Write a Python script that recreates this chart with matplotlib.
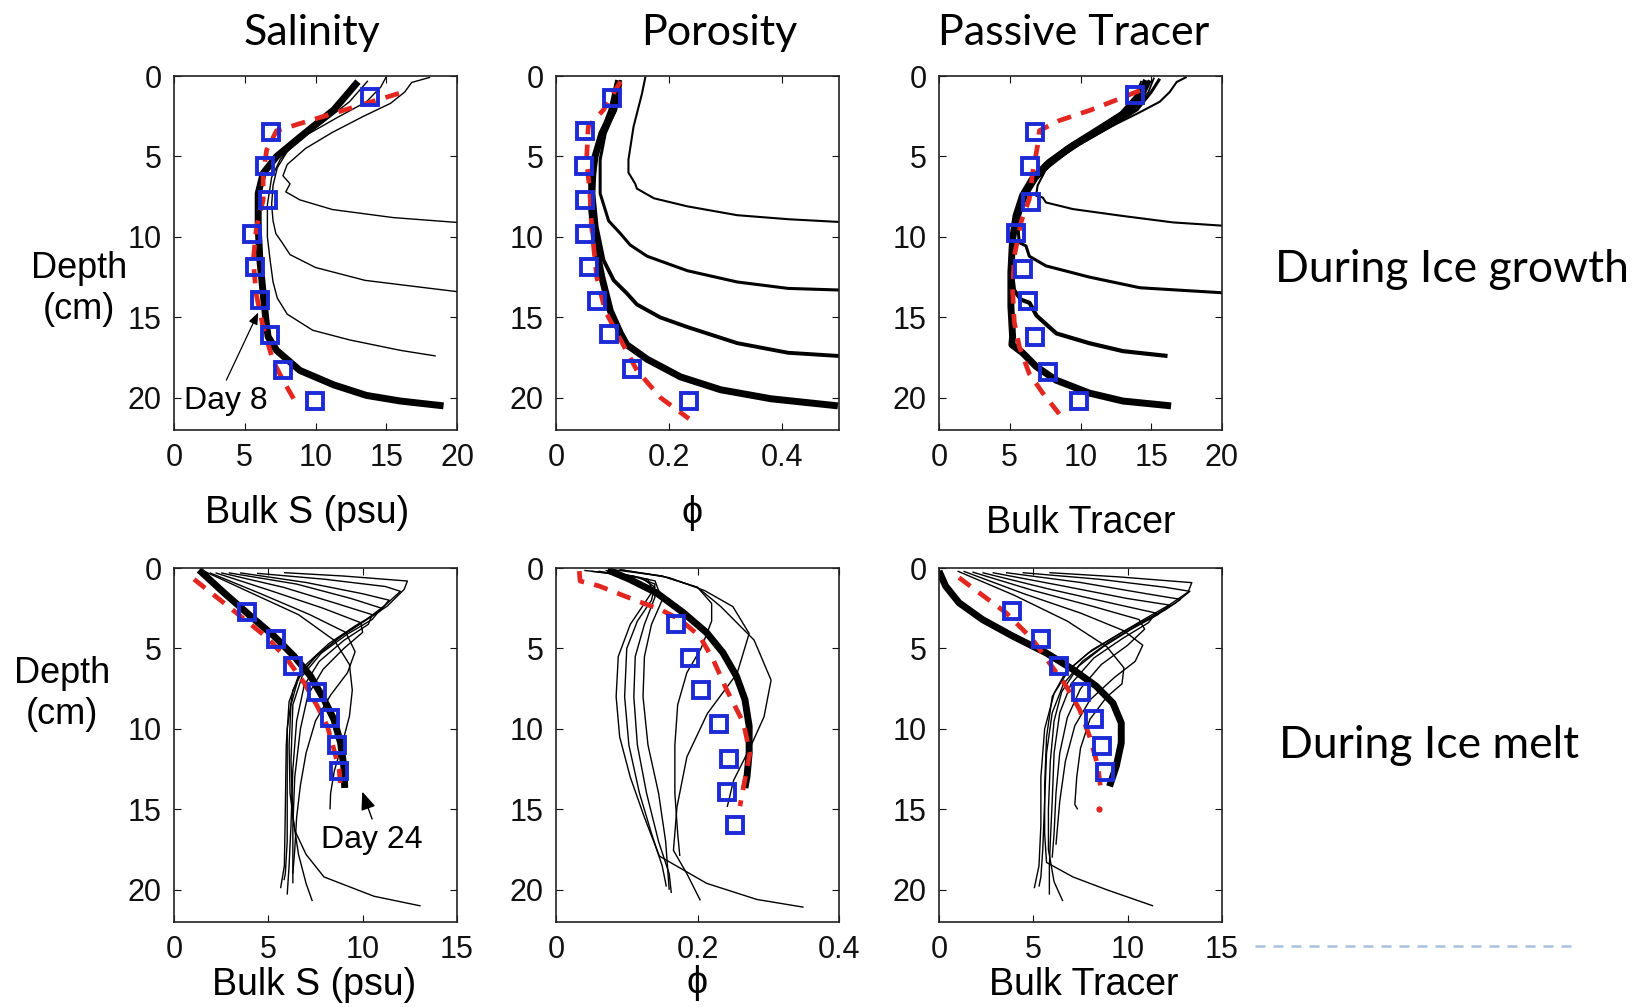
import matplotlib
matplotlib.use('Agg')
import matplotlib.pyplot as plt
from matplotlib.lines import Line2D

# ---------------- growth row ----------------
# salinity
gs_thick_x = [13.0, 11.3, 8.9, 7.25, 6.3, 5.95, 5.95, 6.07, 6.3, 6.5, 6.65, 7.25, 8.9, 11.3, 13.6, 16.0, 19.05]
gs_thick_z = [0.35, 2.1, 3.8, 5.0, 6.05, 7.3, 9.4, 11.45, 13.5, 15.2, 16.2, 17.05, 18.3, 19.2, 19.85, 20.2, 20.5]
gs_model_x = [15.9, 7.25, 6.55, 6.3, 6.3, 5.83, 5.6, 5.8, 6.3, 7.0, 7.7, 8.55]
gs_model_z = [1.08, 3.4, 4.6, 6.05, 7.7, 9.4, 11.45, 13.5, 15.6, 17.7, 18.9, 20.2]
gs_obs_x = [13.86, 6.82, 6.42, 6.66, 5.48, 5.71, 6.07, 6.78, 7.72, 9.96]
gs_obs_z = [1.29, 3.46, 5.6, 7.7, 9.8, 11.9, 13.9, 16.1, 18.3, 20.2]
gs_lines_x = [
    [18.1, 16.8, 16.3, 15.3, 13.4, 11.2, 9.3, 8.0, 7.7, 8.2, 7.9, 8.9, 11.2, 15.5, 20.0],
    [15.0, 14.6, 13.6, 11.5, 9.5, 8.0, 7.3, 7.0, 6.9, 7.0, 7.2, 7.6, 8.2, 10.0, 13.5, 17.2, 20.0],
    [13.7, 12.4, 10.5, 8.6, 7.5, 6.9, 6.6, 6.6, 6.8, 7.0, 7.3, 8.0, 9.8, 12.4, 16.0, 18.5],
]
gs_lines_z = [
    [0.08, 0.4, 1.0, 1.7, 2.5, 3.5, 4.5, 5.5, 6.2, 6.7, 7.2, 7.7, 8.3, 8.8, 9.1],
    [0.05, 0.7, 1.6, 2.6, 3.6, 4.7, 5.7, 6.8, 8.0, 9.0, 9.8, 10.3, 11.1, 11.9, 12.7, 13.1, 13.4],
    [0.3, 1.6, 2.9, 4.1, 5.2, 6.3, 8.0, 10.0, 11.5, 12.8, 13.8, 14.8, 15.8, 16.4, 17.05, 17.4],
]

# porosity
gp_thick_x = [0.111, 0.102, 0.081, 0.069, 0.063, 0.063, 0.069, 0.081, 0.096, 0.114, 0.125, 0.161, 0.22, 0.291, 0.38, 0.498]
gp_thick_z = [0.46, 2.1, 3.57, 5.0, 6.5, 8.3, 10.4, 12.5, 14.6, 16.0, 16.7, 17.6, 18.7, 19.5, 20.06, 20.5]
gp_model_x = [0.114, 0.084, 0.057, 0.054, 0.06, 0.063, 0.072, 0.087, 0.108, 0.143, 0.185, 0.235]
gp_model_z = [0.35, 2.1, 3.15, 5.2, 7.3, 9.4, 12.5, 14.6, 16.0, 18.3, 20.0, 21.3]
gp_obs_x = [0.099, 0.051, 0.05, 0.051, 0.051, 0.059, 0.072, 0.093, 0.134, 0.235]
gp_obs_z = [1.39, 3.42, 5.6, 7.7, 9.8, 11.9, 14.0, 16.06, 18.2, 20.2]
gp_lines_x = [
    [0.158, 0.152, 0.137, 0.128, 0.128, 0.14, 0.143, 0.173, 0.232, 0.32, 0.41, 0.5],
    [0.114, 0.105, 0.087, 0.078, 0.078, 0.093, 0.114, 0.131, 0.161, 0.232, 0.32, 0.41, 0.5],
    [0.108, 0.096, 0.078, 0.069, 0.066, 0.072, 0.084, 0.102, 0.125, 0.143, 0.184, 0.232, 0.32, 0.41, 0.5],
]
gp_lines_z = [
    [0.04, 1.08, 3.15, 5.2, 6.0, 6.7, 7.0, 7.6, 8.1, 8.65, 8.9, 9.07],
    [0.25, 2.1, 3.57, 5.2, 7.3, 9.0, 9.8, 10.5, 11.2, 12.1, 12.8, 13.2, 13.3],
    [0.25, 2.1, 3.78, 5.2, 7.3, 9.4, 11.45, 12.7, 13.5, 14.2, 15.0, 15.6, 16.6, 17.2, 17.4],
]
gp_lines_w = [1.5, 2.2, 2.8]

# passive tracer
gt_thick_x = [14.66, 14.2, 13.2, 11.35, 9.46, 7.8, 6.6, 5.9, 5.44, 5.2, 5.08, 5.08, 5.2, 5.15, 5.9, 6.86, 8.27, 10.6, 13.0, 16.4]
gt_thick_z = [0.27, 1.2, 2.25, 3.28, 4.32, 5.36, 6.4, 7.44, 8.69, 10.15, 12.2, 14.3, 16.2, 16.7, 17.2, 18.05, 18.9, 19.7, 20.2, 20.5]
gt_model_x = [14.2, 12.77, 10.64, 8.5, 7.1, 6.97, 6.62, 6.38, 5.79, 5.32, 5.2, 5.32, 5.67, 6.38, 7.33, 8.5]
gt_model_z = [0.9, 1.41, 2.14, 2.77, 3.39, 4.32, 6.0, 7.65, 9.1, 11.2, 13.3, 15.3, 16.8, 18.5, 19.7, 21.0]
gt_obs_x = [13.83, 6.8, 6.45, 6.5, 5.44, 5.96, 6.26, 6.8, 7.68, 9.88]
gt_obs_z = [1.2, 3.45, 5.6, 7.8, 9.73, 12.0, 14.0, 16.2, 18.4, 20.2]
gt_lines_x = [
    [17.5, 16.8, 16.3, 15.6, 14.2, 11.8, 9.46, 7.56, 6.97, 6.86, 7.33, 7.56, 9.46, 13.0, 16.55, 20.0],
    [15.6, 15.0, 14.0, 12.0, 10.0, 8.1, 6.9, 6.2, 5.9, 5.55, 5.67, 6.15, 6.38, 7.56, 10.64, 14.2, 20.0],
    [14.9, 14.4, 13.4, 11.5, 9.6, 7.9, 6.7, 6.0, 5.5, 5.25, 5.15, 5.3, 5.8, 6.4, 6.9, 8.3, 10.6, 13.0, 16.15],
    [15.2, 14.8, 13.8, 11.8, 9.8, 8.0, 6.9, 6.2],
    [14.3, 13.9, 12.8, 10.9, 9.0, 7.5, 6.5, 6.0],
]
gt_lines_z = [
    [0.06, 0.37, 1.0, 1.6, 2.25, 3.3, 4.5, 5.8, 6.8, 7.44, 7.55, 7.86, 8.27, 8.7, 9.1, 9.3],
    [0.17, 1.0, 2.1, 3.2, 4.2, 5.3, 6.4, 7.4, 8.1, 9.1, 10.35, 10.56, 11.2, 11.8, 12.5, 13.16, 13.47],
    [0.27, 1.2, 2.25, 3.3, 4.3, 5.35, 6.4, 7.45, 8.7, 10.2, 12.2, 13.3, 13.9, 14.1, 14.9, 16.0, 16.6, 17.1, 17.4],
    [0.1, 1.0, 2.1, 3.25, 4.3, 5.4, 6.4, 7.2],
    [0.3, 1.2, 2.3, 3.4, 4.4, 5.4, 6.4, 7.3],
]
gt_lines_w = [1.5, 2.2, 3.0, 1.3, 1.3]

# ---------------- melt row ----------------
ms_thick_x = [1.33, 2.65, 4.06, 5.3, 6.36, 7.24, 7.95, 8.48, 8.83, 9.0, 9.05]
ms_thick_z = [0.12, 1.54, 2.99, 4.23, 5.48, 6.72, 8.17, 9.42, 10.87, 12.32, 13.67]
ms_model_x = [1.06, 2.3, 3.53, 4.95, 6.0, 6.9, 7.6, 8.13, 8.48, 8.75, 8.83]
ms_model_z = [0.7, 1.85, 3.0, 4.34, 5.68, 7.14, 8.6, 9.83, 11.3, 12.5, 13.57]
ms_obs_x = [3.85, 5.39, 6.33, 7.6, 8.27, 8.66, 8.76]
ms_obs_z = [2.74, 4.4, 6.1, 7.72, 9.3, 10.97, 12.6]
ms_lines_x = [
    [5.83, 9.0, 12.37, 12.2, 11.3, 10.1, 8.8, 7.5, 6.6, 6.2, 6.1, 6.15, 6.4, 7.0, 7.95, 10.6, 13.07],
    [4.4, 8.0, 11.2, 12.0, 11.2, 10.2, 8.9, 7.6, 6.6, 6.1, 5.95, 5.9, 5.85, 5.65],
    [3.5, 7.0, 10.0, 11.4, 10.9, 9.6, 8.2, 7.0, 6.3, 6.0, 6.0, 6.0, 5.9, 5.83],
    [2.9, 6.5, 9.4, 11.0, 10.5, 9.2, 7.8, 6.8, 6.3, 6.2, 6.3, 6.6, 7.0, 7.33],
    [2.5, 5.8, 8.6, 10.5, 10.3, 9.0, 7.7, 6.9, 6.5, 6.3, 6.2, 6.1, 6.0],
    [2.2, 5.1, 7.9, 9.9, 10.0, 9.0, 7.9, 7.1, 6.7, 6.4, 6.3, 6.3],
    [1.9, 4.6, 7.2, 9.1, 9.6, 9.2, 8.3, 7.5, 7.0, 6.7, 6.5, 6.4, 6.3],
    [1.6, 4.0, 6.6, 8.5, 9.3, 9.45, 9.3, 8.9, 8.5, 8.3, 8.27],
]
ms_lines_z = [
    [0.29, 0.5, 0.81, 1.33, 2.37, 3.3, 4.3, 5.5, 6.8, 8.5, 11.0, 14.0, 16.3, 17.8, 19.2, 20.4, 21.0],
    [0.33, 0.7, 1.15, 1.45, 2.3, 3.2, 4.2, 5.4, 6.7, 8.3, 11.0, 15.0, 18.5, 19.9],
    [0.3, 0.9, 1.6, 2.0, 2.7, 3.6, 4.7, 6.0, 7.6, 10.0, 14.0, 17.0, 19.0, 19.4],
    [0.3, 1.0, 1.9, 2.5, 3.2, 4.1, 5.3, 6.7, 8.5, 12.0, 15.5, 17.8, 19.6, 20.7],
    [0.3, 1.2, 2.2, 2.9, 3.5, 4.5, 5.8, 7.3, 9.5, 12.5, 16.0, 18.5, 20.3],
    [0.3, 1.4, 2.5, 3.4, 4.0, 5.0, 6.3, 7.9, 10.0, 13.0, 16.0, 19.6],
    [0.3, 1.6, 2.9, 4.0, 5.2, 6.5, 7.9, 9.5, 11.5, 13.5, 15.5, 17.5, 19.0],
    [0.2, 1.5, 2.9, 4.5, 6.0, 7.6, 9.2, 11.0, 12.6, 14.0, 15.0],
]

mp_thick_x = [0.073, 0.104, 0.142, 0.18, 0.213, 0.236, 0.255, 0.267, 0.273, 0.273, 0.27, 0.267]
mp_thick_z = [0.12, 0.7, 1.54, 2.78, 4.02, 5.27, 6.72, 8.17, 9.83, 11.5, 12.95, 13.67]
mp_model_x = [0.033, 0.034, 0.061, 0.109, 0.147, 0.175, 0.203, 0.222, 0.241, 0.265, 0.274, 0.267, 0.26]
mp_model_z = [0.19, 0.81, 1.12, 1.95, 2.57, 3.2, 4.23, 5.68, 7.55, 9.63, 11.5, 13.15, 14.8]
mp_obs_x = [0.170, 0.19, 0.205, 0.23, 0.244, 0.242, 0.253]
mp_obs_z = [3.5, 5.58, 7.6, 9.69, 11.85, 13.9, 16.0]
mp_lines_x = [
    [0.05, 0.12, 0.14, 0.125, 0.105, 0.088, 0.085, 0.09, 0.105, 0.125, 0.146, 0.213, 0.284, 0.35],
    [0.04, 0.11, 0.14, 0.135, 0.115, 0.1, 0.097, 0.103, 0.118, 0.135, 0.15, 0.156],
    [0.06, 0.13, 0.14, 0.125, 0.112, 0.11, 0.115, 0.128, 0.145, 0.16, 0.163],
    [0.07, 0.14, 0.15, 0.135, 0.125, 0.123, 0.13, 0.145, 0.155, 0.16],
    [0.08, 0.15, 0.2, 0.22, 0.22, 0.205, 0.185, 0.172, 0.168, 0.168, 0.172, 0.175],
    [0.09, 0.16, 0.21, 0.25, 0.273, 0.256, 0.214, 0.185, 0.171, 0.166, 0.185, 0.204],
    [0.09, 0.15, 0.2, 0.233, 0.28, 0.304, 0.294, 0.275, 0.251, 0.242],
]
mp_lines_z = [
    [0.2, 0.6, 1.2, 2.2, 3.5, 5.5, 8.0, 10.5, 13.0, 15.5, 17.9, 19.6, 20.6, 21.08],
    [0.15, 0.5, 1.0, 2.0, 3.3, 5.0, 8.0, 11.0, 14.0, 16.5, 18.5, 19.8],
    [0.2, 0.7, 1.8, 3.5, 5.5, 8.0, 11.0, 14.0, 17.0, 19.0, 20.2],
    [0.15, 0.8, 2.0, 3.5, 5.5, 8.0, 11.0, 14.0, 17.0, 20.0],
    [0.1, 0.5, 1.2, 2.2, 3.3, 5.0, 6.5, 8.5, 11.0, 14.0, 16.5, 17.9],
    [0.1, 0.6, 1.4, 2.4, 4.07, 6.55, 9.04, 11.74, 14.85, 17.55, 19.0, 20.66],
    [0.1, 0.5, 1.2, 2.4, 4.48, 6.97, 9.25, 11.1, 13.2, 14.85],
]

mt_thick_x = [0.0, 0.35, 1.06, 2.3, 3.9, 5.67, 7.09, 8.33, 9.22, 9.66, 9.66, 9.4, 9.04]
mt_thick_z = [0.19, 1.12, 2.16, 3.2, 4.23, 5.27, 6.3, 7.34, 8.4, 9.63, 10.87, 12.3, 13.57]
mt_model_x = [1.06, 2.13, 3.55, 4.96, 5.85, 6.74, 7.45, 7.98, 8.42, 8.6]
mt_model_z = [0.6, 1.54, 2.78, 4.44, 5.9, 7.34, 8.8, 10.46, 12.3, 14.0]
mt_dot_x = [8.47]
mt_dot_z = [15.0]
mt_obs_x = [3.87, 5.43, 6.35, 7.54, 8.24, 8.65, 8.78]
mt_obs_z = [2.68, 4.4, 6.06, 7.72, 9.38, 11.04, 12.7]
mt_lines_x = [
    [5.85, 9.5, 13.4, 13.2, 12.2, 11.0, 9.4, 7.9, 6.7, 6.0, 5.7, 5.6, 5.6, 5.7, 7.1, 8.9, 11.35],
    [4.43, 8.5, 12.0, 13.3, 12.5, 11.3, 9.7, 8.1, 6.9, 6.1, 5.6, 5.4, 5.4, 5.3, 5.05],
    [3.55, 7.5, 11.0, 12.8, 12.0, 10.6, 9.0, 7.6, 6.6, 6.0, 5.7, 5.6, 5.5, 5.4, 5.3],
    [2.84, 6.5, 10.0, 12.2, 11.6, 10.2, 8.7, 7.4, 6.5, 6.1, 5.9, 5.8, 5.8, 6.1, 6.56],
    [2.3, 5.8, 9.2, 11.5, 11.1, 9.7, 8.2, 7.0, 6.4, 6.1, 6.0, 5.9, 5.85, 5.85],
    [1.77, 5.0, 8.2, 10.6, 10.9, 10.0, 8.6, 7.5, 6.8, 6.4, 6.2, 6.1, 6.0],
    [1.3, 4.5, 7.5, 9.8, 10.8, 10.4, 9.3, 8.0, 7.2, 6.7, 6.4, 6.2],
    [0.98, 4.0, 6.8, 8.9, 9.8, 9.7, 8.9, 8.0, 7.5, 7.3, 7.2, 7.35],
]
mt_lines_z = [
    [0.29, 0.55, 0.91, 1.5, 2.3, 3.1, 4.2, 5.3, 6.5, 8.0, 10.5, 13.5, 16.5, 18.3, 19.2, 20.0, 21.0],
    [0.29, 0.7, 1.2, 1.45, 2.2, 3.0, 4.0, 5.1, 6.3, 7.8, 10.0, 13.0, 16.0, 18.5, 19.9],
    [0.29, 0.9, 1.6, 1.95, 2.6, 3.5, 4.6, 5.8, 7.2, 9.0, 11.5, 14.5, 17.5, 19.2, 19.8],
    [0.29, 1.1, 1.9, 2.3, 2.9, 3.8, 4.9, 6.1, 7.7, 9.5, 12.0, 15.0, 17.5, 19.5, 20.7],
    [0.29, 1.3, 2.2, 2.8, 3.4, 4.4, 5.6, 7.2, 9.0, 11.5, 14.5, 17.0, 18.5, 20.3],
    [0.25, 1.4, 2.4, 3.2, 3.8, 4.8, 6.0, 7.5, 9.3, 11.5, 14.0, 16.5, 18.0],
    [0.2, 1.6, 2.8, 3.9, 4.8, 5.8, 6.8, 8.2, 9.8, 12.0, 14.5, 17.2],
    [0.19, 1.7, 3.3, 4.9, 6.2, 7.2, 8.0, 9.4, 11.2, 13.0, 14.7, 15.0],
]

titles = ['Salinity', 'Porosity', 'Passive Tracer']
row_labels = ['During Ice growth', 'During Ice melt']

RED = '#e3261f'
BLUE = '#1c2bd6'
TITLE_FONT = 'Lato'
PHI = '\u03d5'

plt.rcParams['font.family'] = ['Liberation Sans', 'DejaVu Sans']

fig = plt.figure(figsize=(16.32, 10.07), dpi=100)

lefts = [174, 556, 939]
tops = [76, 568]
W, H = 283, 354


def make_ax(col, row):
    l = lefts[col] / 1632
    b = 1 - (tops[row] + H) / 1007
    ax = fig.add_axes([l, b, W / 1632, H / 1007])
    ax.set_ylim(22, 0)
    ax.set_yticks([0, 5, 10, 15, 20])
    ax.tick_params(direction='in', top=True, right=True, length=5, width=0.8,
                   labelsize=22, pad=9, colors='#111')
    for s in ax.spines.values():
        s.set_linewidth(1.2)
        s.set_color('#222')
    return ax


def draw(ax, lines_x, lines_z, widths, thick_x, thick_z, model_x, model_z, obs_x, obs_z):
    for i, (lx, lz) in enumerate(zip(lines_x, lines_z)):
        w = widths[i] if widths else 1.0
        ax.plot(lx, lz, color='k', lw=w, solid_capstyle='butt')
    ax.plot(thick_x, thick_z, color='k', lw=5, solid_capstyle='butt')
    ax.plot(model_x, model_z, color=RED, lw=3.4, dashes=(3, 2.2))
    ax.plot(obs_x, obs_z, ls='none', marker='s', ms=11, mfc='none', mec=BLUE, mew=2.8)


def xlabel(ax, text, x, y):
    ax.set_xlabel(text, fontsize=27)
    ax.xaxis.set_label_coords(x, y)
    ax.xaxis.label.set_va('center')


# growth row
ax = make_ax(0, 0)
draw(ax, gs_lines_x, gs_lines_z, None, gs_thick_x, gs_thick_z, gs_model_x, gs_model_z, gs_obs_x, gs_obs_z)
ax.set_xlim(0, 20)
ax.set_xticks([0, 5, 10, 15, 20])
ax.set_ylabel('Depth\n(cm)', rotation=0, fontsize=26, ha='center', va='center', linespacing=1.2)
ax.yaxis.set_label_coords(-0.335, 0.398)
xlabel(ax, 'Bulk S (psu)', 0.47, -0.234)
ax.text(0.7, 20.2, 'Day 8', fontsize=23, ha='left', va='center')
ax.annotate('', xy=(5.95, 14.7), xytext=(3.7, 18.9),
            arrowprops=dict(arrowstyle='-|>,head_length=0.7,head_width=0.28', color='k',
                            lw=0.9, shrinkA=0, shrinkB=0))

ax = make_ax(1, 0)
draw(ax, gp_lines_x, gp_lines_z, gp_lines_w, gp_thick_x, gp_thick_z, gp_model_x, gp_model_z, gp_obs_x, gp_obs_z)
ax.set_xlim(0, 0.5)
ax.set_xticks([0, 0.2, 0.4])
ax.set_xticklabels(['0', '0.2', '0.4'])
xlabel(ax, PHI, 0.48, -0.234)

ax = make_ax(2, 0)
draw(ax, gt_lines_x, gt_lines_z, gt_lines_w, gt_thick_x, gt_thick_z, gt_model_x, gt_model_z, gt_obs_x, gt_obs_z)
ax.set_xlim(0, 20)
ax.set_xticks([0, 5, 10, 15, 20])
xlabel(ax, 'Bulk Tracer', 0.5, -0.263)

# melt row
ax = make_ax(0, 1)
draw(ax, ms_lines_x, ms_lines_z, None, ms_thick_x, ms_thick_z, ms_model_x, ms_model_z, ms_obs_x, ms_obs_z)
ax.set_xlim(0, 15)
ax.set_xticks([0, 5, 10, 15])
ax.set_ylabel('Depth\n(cm)', rotation=0, fontsize=26, ha='center', va='center', linespacing=1.2)
ax.yaxis.set_label_coords(-0.396, 0.644)
xlabel(ax, 'Bulk S (psu)', 0.495, -0.178)
ax.annotate('', xy=(9.98, 13.9), xytext=(10.5, 15.6),
            arrowprops=dict(arrowstyle='-|>,head_length=1.1,head_width=0.45', color='k',
                            lw=1.0, shrinkA=0, shrinkB=0))
ax.text(7.8, 16.9, 'Day 24', fontsize=23, ha='left', va='center')

ax = make_ax(1, 1)
draw(ax, mp_lines_x, mp_lines_z, None, mp_thick_x, mp_thick_z, mp_model_x, mp_model_z, mp_obs_x, mp_obs_z)
ax.set_xlim(0, 0.4)
ax.set_xticks([0, 0.2, 0.4])
ax.set_xticklabels(['0', '0.2', '0.4'])
xlabel(ax, PHI, 0.5, -0.172)

ax = make_ax(2, 1)
draw(ax, mt_lines_x, mt_lines_z, None, mt_thick_x, mt_thick_z, mt_model_x, mt_model_z, mt_obs_x, mt_obs_z)
ax.plot(mt_dot_x, mt_dot_z, ls='none', marker='o', ms=3.5, color=RED)
ax.set_xlim(0, 15)
ax.set_xticks([0, 5, 10, 15])
xlabel(ax, 'Bulk Tracer', 0.51, -0.178)

# column titles and row labels
for x, t in zip([0.191, 0.441, 0.658], titles):
    fig.text(x, 0.967, t, fontsize=31, family=TITLE_FONT, ha='center', va='center')
fig.text(0.781, 0.732, row_labels[0], fontsize=32, family=TITLE_FONT, ha='left', va='center')
fig.text(0.784, 0.26, row_labels[1], fontsize=32, family=TITLE_FONT, ha='left', va='center')

# decorative dashed rule at bottom right
fig.add_artist(Line2D([0.769, 0.9626], [0.0606, 0.0606], transform=fig.transFigure,
                      color='#a9c1da', lw=1.8, dashes=(4, 3.2)))

fig.savefig('out.png', dpi=100)
